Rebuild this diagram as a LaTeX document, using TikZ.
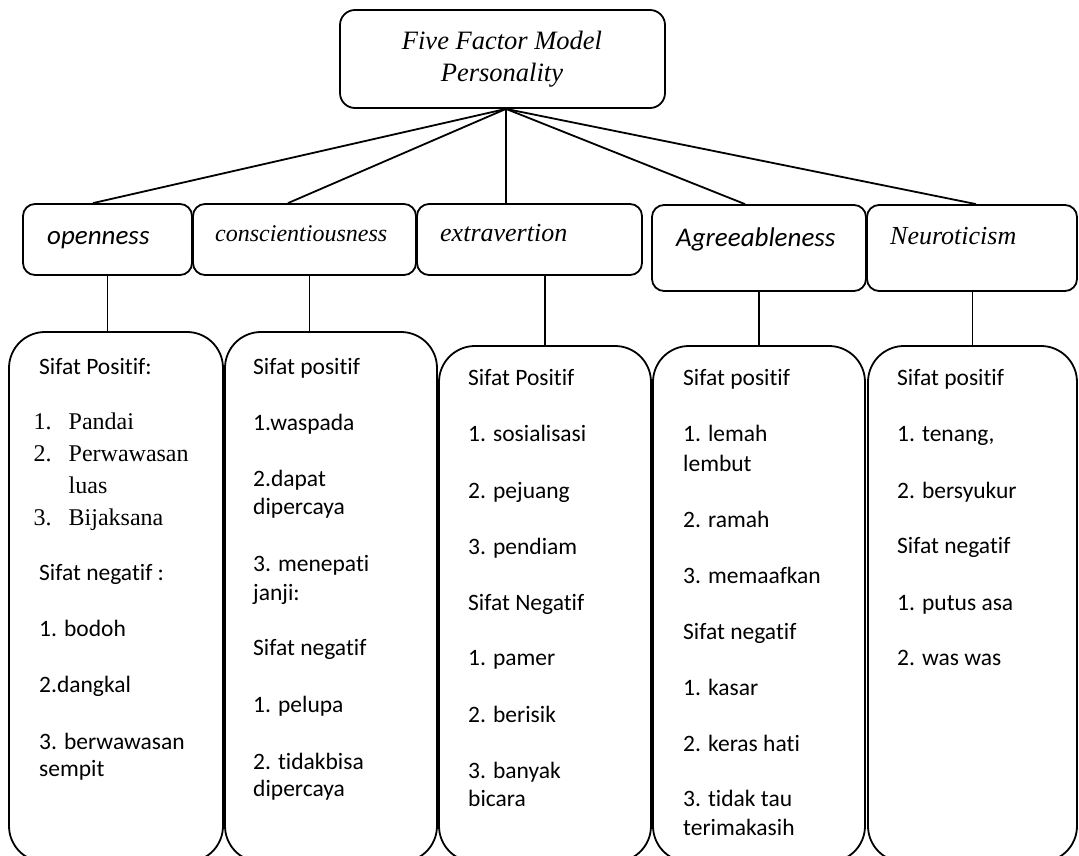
\documentclass[tikz,border=0pt]{standalone}
\usepackage{fontspec}
\setmainfont{Liberation Serif}
\newfontfamily\calibfont[Ligatures=NoCommon]{Carlito}
\usetikzlibrary{calc}

\tikzset{
  edge/.style={line width=1.8pt},
  topbox/.style={draw, line width=1.8pt, rounded corners=15pt, inner sep=0pt},
  facbox/.style={draw, line width=1.8pt, rounded corners=12pt, inner sep=0pt},
  traitbox/.style={draw, line width=1.8pt, rounded corners=36pt, inner sep=0pt},
  title/.style={anchor=base, inner sep=0pt, font=\itshape\fontsize{26.5}{32}\selectfont},
  fsans/.style={anchor=base west, inner sep=0pt, font=\calibfont\itshape\fontsize{27}{32}\selectfont},
  fserif/.style={anchor=base west, inner sep=0pt, font=\itshape\fontsize{26}{31}\selectfont},
  ln/.style={anchor=base west, inner sep=0pt, font=\calibfont\fontsize{23.5}{28.5}\selectfont},
  lnrm/.style={anchor=base west, inner sep=0pt, font=\fontsize{24}{29}\selectfont},
}

\begin{document}
\begin{tikzpicture}[x=1pt, y=-1pt]
\useasboundingbox (0,0) rectangle (1079,856);

% root
\node[topbox, minimum width=325pt, minimum height=98pt] (top) at (502.5,59) {};
\node[title] (t1) at (502,50) {Five Factor Model};
\node[title] (t2) at (502,82) {Personality};

% the five factors
\node[facbox, minimum width=169pt, minimum height=71pt] (open)  at (107.5,239.5) {};
\node[facbox, minimum width=223pt, minimum height=71pt] (consc) at (304.5,239.5) {};
\node[facbox, minimum width=225pt, minimum height=71pt] (extra) at (529.5,239.5) {};
\node[facbox, minimum width=214pt, minimum height=86pt] (agree) at (759,248) {};
\node[facbox, minimum width=210pt, minimum height=86pt] (neuro) at (972,248) {};

\node[fsans]  (lopen)  at (47,244)  {openness};
\node[fserif, font=\itshape\fontsize{24}{29}\selectfont] (lconsc) at (215,241) {conscientiousness};
\node[fserif] (lextra) at (440,241) {extravertion};
\node[fsans]  (lagree) at (676,246) {Agreeableness};
\node[fserif] (lneuro) at (890,244) {Neuroticism};

% trait lists
\node[traitbox, minimum width=214pt, minimum height=530pt] (b1) at (116,597) {};
\node[traitbox, minimum width=212pt, minimum height=530pt] (b2) at (331,597) {};
\node[traitbox, minimum width=212pt, minimum height=516pt] (b3) at (545,604) {};
\node[traitbox, minimum width=212pt, minimum height=516pt] (b4) at (759,604) {};
\node[traitbox, minimum width=209pt, minimum height=516pt] (b5) at (972.5,604) {};

% connectors
\coordinate (hub) at ($(top.south)+(3.5,0)$);
\draw[edge] (hub) -- ($(open.north)+(-14.5,0)$);
\draw[edge] (hub) -- ($(consc.north)+(-16.5,0)$);
\draw[edge] (hub) -- ($(extra.north)+(-23.5,0)$);
\draw[edge] (hub) -- ($(agree.north)+(-14,0)$);
\draw[edge] (hub) -- ($(neuro.north)+(4,0)$);

\draw[edge] (open.south) -- (open.south |- b1.north);
\draw[edge] ([xshift=5pt]consc.south) -- ([xshift=5pt]consc.south |- b2.north);
\draw[edge] (b3.north) -- (b3.north |- extra.south);
\draw[edge] (agree.south) -- (agree.south |- b4.north);
\draw[edge] (b5.north) -- (b5.north |- neuro.south);

% openness
\node[ln]   (a1)  at (39,374) {Sifat Positif:};
\node[lnrm] (a2n) at (33.5,429) {1.};
\node[lnrm] (a2)  at (68.5,429) {Pandai};
\node[lnrm] (a3n) at (33.5,461) {2.};
\node[lnrm] (a3)  at (68.5,461) {Perwawasan};
\node[lnrm] (a4)  at (68.5,493) {luas};
\node[lnrm] (a5n) at (33.5,525) {3.};
\node[lnrm] (a5)  at (68.5,525) {Bijaksana};
\node[ln]   (a6)  at (39,580) {Sifat negatif :};
\node[ln]   (a7)  at (39,636) {1. bodoh};
\node[ln]   (a8)  at (39,692) {2.dangkal};
\node[ln]   (a9)  at (39,749) {3. berwawasan};
\node[ln]   (a10) at (39,776) {sempit};

% conscientiousness
\node[ln] (c1)  at (253,374) {Sifat positif};
\node[ln] (c2)  at (253,430) {1.waspada};
\node[ln] (c3)  at (253,486) {2.dapat};
\node[ln] (c4)  at (253,514.5) {dipercaya};
\node[ln] (c5)  at (253,571.5) {3. menepati};
\node[ln] (c6)  at (253,600) {janji:};
\node[ln] (c7)  at (253,655) {Sifat negatif};
\node[ln] (c8)  at (253,712) {1. pelupa};
\node[ln] (c9)  at (253,769) {2. tidakbisa};
\node[ln] (c10) at (253,796) {dipercaya};

% extravertion
\node[ln] (e1) at (468,385) {Sifat Positif};
\node[ln] (e2) at (468,441) {1. sosialisasi};
\node[ln] (e3) at (468,498) {2. pejuang};
\node[ln] (e4) at (468,554) {3. pendiam};
\node[ln] (e5) at (468,610) {Sifat Negatif};
\node[ln] (e6) at (468,665.5) {1. pamer};
\node[ln] (e7) at (468,722) {2. berisik};
\node[ln] (e8) at (468,778) {3. banyak};
\node[ln] (e9) at (468,806) {bicara};

% agreeableness
\node[ln] (g1)  at (683,385) {Sifat positif};
\node[ln] (g2)  at (683,441) {1. lemah};
\node[ln] (g3)  at (683,471) {lembut};
\node[ln] (g4)  at (683,527) {2. ramah};
\node[ln] (g5)  at (683,583) {3. memaafkan};
\node[ln] (g6)  at (683,639) {Sifat negatif};
\node[ln] (g7)  at (683,695) {1. kasar};
\node[ln] (g8)  at (683,751) {2. keras hati};
\node[ln] (g9)  at (683,806) {3. tidak tau};
\node[ln] (g10) at (683,835) {terimakasih};

% neuroticism
\node[ln] (n1) at (897,385) {Sifat positif};
\node[ln] (n2) at (897,441) {1. tenang,};
\node[ln] (n3) at (897,498) {2. bersyukur};
\node[ln] (n4) at (897,553) {Sifat negatif};
\node[ln] (n5) at (897,610) {1. putus asa};
\node[ln] (n6) at (897,665.5) {2. was was};
\end{tikzpicture}
\end{document}
